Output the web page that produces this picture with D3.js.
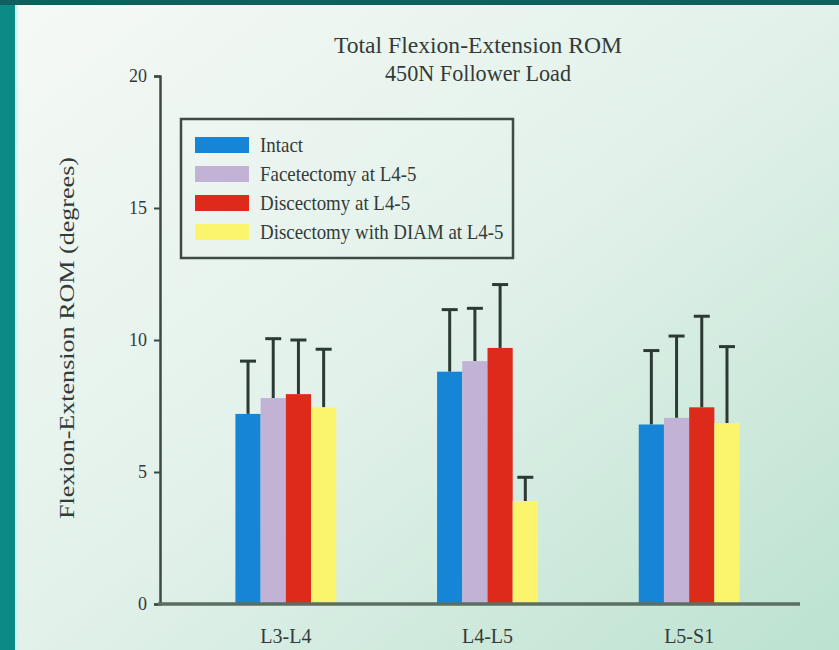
<!DOCTYPE html>
<html>
<head>
<meta charset="utf-8">
<script src="https://cdn.jsdelivr.net/npm/d3@7"></script>
<style>
  body { margin: 0; padding: 0; background: #0b6f6c; }
  svg { display: block; }
  text { font-family: "Liberation Serif", "DejaVu Serif", serif; fill: #333b38; }
</style>
</head>
<body>
<div id="chart"></div>
<script>
// data
var levels = ["L3-L4", "L4-L5", "L5-S1"];
var conditions = ["Intact", "Facetectomy at L4-5", "Discectomy at L4-5", "Discectomy with DIAM at L4-5"];
var colors = ["#1685d6", "#c2b2d6", "#dd2a1b", "#fbf56e"];
var intact = [7.2, 8.8, 6.8];
var facetectomy = [7.8, 9.2, 7.05];
var discectomy = [7.95, 9.7, 7.45];
var diam = [7.45, 3.9, 6.85];
var intactSd = [2.0, 2.35, 2.8];
var facetectomySd = [2.25, 2.0, 3.1];
var discectomySd = [2.05, 2.4, 3.45];
var diamSd = [2.2, 0.9, 2.9];
var yTicks = [0, 5, 10, 15, 20];

var series = [intact, facetectomy, discectomy, diam];
var errors = [intactSd, facetectomySd, discectomySd, diamSd];

var W = 839, H = 650;
var svg = d3.select("#chart").append("svg")
    .attr("width", W)
    .attr("height", H);

var defs = svg.append("defs");
var grad = defs.append("linearGradient")
    .attr("id", "bg")
    .attr("x1", "0%").attr("y1", "0%")
    .attr("x2", "100%").attr("y2", "100%");
grad.append("stop").attr("offset", "0%").attr("stop-color", "#f5f9f6");
grad.append("stop").attr("offset", "50%").attr("stop-color", "#e2f1ea");
grad.append("stop").attr("offset", "100%").attr("stop-color", "#bce2d0");

// teal frame + panel
svg.append("rect").attr("x", 0).attr("y", 0).attr("width", W).attr("height", H).attr("fill", "#0b8a86");
svg.append("rect").attr("x", 0).attr("y", 0).attr("width", W).attr("height", 5).attr("fill", "#0e5f5e");
svg.append("rect").attr("x", 15).attr("y", 5).attr("width", 5).attr("height", H - 5).attr("fill", "#c8f6f4");
svg.append("rect").attr("x", 18).attr("y", 5).attr("width", W - 18).attr("height", H - 5).attr("fill", "url(#bg)");

var x0 = d3.scaleBand().domain(levels).range([185, 790]).paddingInner(0.5).paddingOuter(0.25);
var x1 = d3.scaleBand().domain(d3.range(conditions.length)).range([0, x0.bandwidth()]);
var y = d3.scaleLinear().domain([0, 20]).range([604, 76]);

// bars
var groups = svg.selectAll(".grp")
    .data(levels)
    .enter().append("g")
    .attr("class", "grp")
    .attr("transform", function(d) { return "translate(" + x0(d) + ",0)"; });

groups.each(function(lvl, li) {
    var g = d3.select(this);
    var items = series.map(function(s, si) {
        return {si: si, v: s[li], e: errors[si][li]};
    });

    // error bars (upper only)
    g.selectAll("line.err")
        .data(items).enter().append("line")
        .attr("class", "err")
        .attr("x1", function(d) { return x1(d.si) + x1.bandwidth() / 2; })
        .attr("x2", function(d) { return x1(d.si) + x1.bandwidth() / 2; })
        .attr("y1", function(d) { return y(d.v); })
        .attr("y2", function(d) { return y(d.v + d.e); })
        .attr("stroke", "#2c3a34").attr("stroke-width", 3);
    g.selectAll("line.cap")
        .data(items).enter().append("line")
        .attr("class", "cap")
        .attr("x1", function(d) { return x1(d.si) + x1.bandwidth() / 2 - 8; })
        .attr("x2", function(d) { return x1(d.si) + x1.bandwidth() / 2 + 8; })
        .attr("y1", function(d) { return y(d.v + d.e); })
        .attr("y2", function(d) { return y(d.v + d.e); })
        .attr("stroke", "#2c3a34").attr("stroke-width", 3);

    g.selectAll("rect")
        .data(items).enter().append("rect")
        .attr("x", function(d) { return x1(d.si); })
        .attr("width", x1.bandwidth())
        .attr("y", function(d) { return y(d.v); })
        .attr("height", function(d) { return y(0) - y(d.v); })
        .attr("fill", function(d) { return colors[d.si]; });
});

// y axis
var yAxis = svg.append("g")
    .attr("transform", "translate(160,0)")
    .call(d3.axisLeft(y).tickValues(yTicks).tickSize(6).tickPadding(7));
yAxis.select(".domain").attr("stroke", "#3d4a44").attr("stroke-width", 2.5);
yAxis.selectAll(".tick line").attr("stroke", "#3d4a44").attr("stroke-width", 2);
yAxis.selectAll(".tick text")
    .attr("font-family", "Liberation Serif, serif")
    .attr("font-size", 18)
    .attr("fill", "#4a524f");

// x axis
svg.append("line")
    .attr("x1", 158).attr("x2", 800)
    .attr("y1", y(0)).attr("y2", y(0))
    .attr("stroke", "#5b6e62").attr("stroke-width", 3.5);

svg.selectAll(".xlab")
    .data(levels).enter().append("text")
    .attr("class", "xlab")
    .attr("x", function(d) { return x0(d) + x0.bandwidth() / 2; })
    .attr("y", 643)
    .attr("text-anchor", "middle")
    .attr("font-size", 20)
    .text(function(d) { return d; });

// y label
svg.append("text")
    .attr("transform", "translate(74,338) rotate(-90)")
    .attr("text-anchor", "middle")
    .attr("font-size", 21)
    .attr("fill", "#414946")
    .attr("textLength", 362)
    .attr("lengthAdjust", "spacingAndGlyphs")
    .text("Flexion-Extension ROM (degrees)");

// title
svg.append("text").attr("x", 478).attr("y", 53).attr("text-anchor", "middle")
    .attr("font-size", 24)
    .attr("textLength", 288).attr("lengthAdjust", "spacingAndGlyphs")
    .text("Total Flexion-Extension ROM");
svg.append("text").attr("x", 478).attr("y", 81).attr("text-anchor", "middle")
    .attr("font-size", 24)
    .attr("textLength", 186).attr("lengthAdjust", "spacingAndGlyphs")
    .text("450N Follower Load");

// legend
var legend = svg.append("g");
legend.append("rect")
    .attr("x", 181).attr("y", 119).attr("width", 332).attr("height", 139)
    .attr("fill", "none").attr("stroke", "#3f4a45").attr("stroke-width", 2.5);
var rows = legend.selectAll(".row")
    .data(conditions).enter().append("g")
    .attr("class", "row")
    .attr("transform", function(d, i) { return "translate(195," + (145 + i * 29) + ")"; });
rows.append("rect")
    .attr("x", 0).attr("y", -8).attr("width", 54).attr("height", 16)
    .attr("fill", function(d, i) { return colors[i]; });
rows.append("text")
    .attr("x", 65).attr("y", 7)
    .attr("font-size", 21)
    .text(function(d) { return d; })
    .each(function() {
        // squeeze to the narrow look of the original
        var w = this.getComputedTextLength();
        d3.select(this).attr("textLength", w * 0.9).attr("lengthAdjust", "spacingAndGlyphs");
    });
</script>
</body>
</html>
